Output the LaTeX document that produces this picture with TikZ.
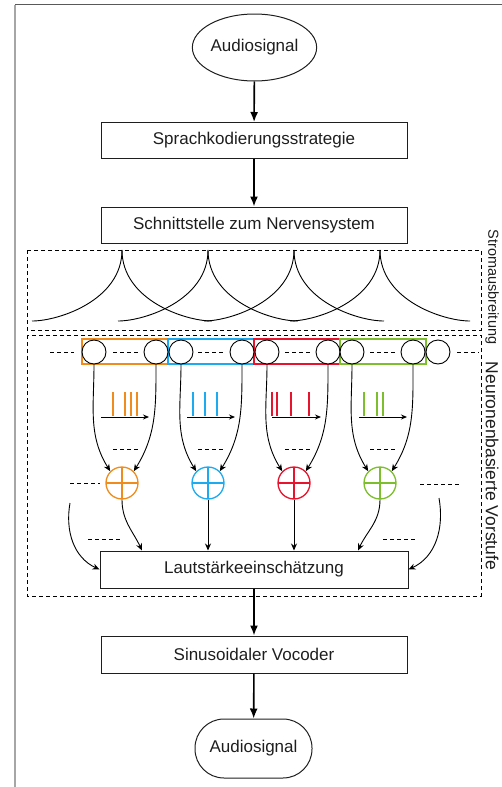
\documentclass[tikz,border=0pt]{standalone}
\usepackage{fontspec}
\setmainfont{Liberation Sans}
\usetikzlibrary{arrows.meta,shapes.geometric}
\definecolor{cor}{RGB}{240,140,30}
\definecolor{cbl}{RGB}{30,170,240}
\definecolor{crd}{RGB}{232,20,45}
\definecolor{cgr}{RGB}{125,190,45}
\definecolor{txt}{RGB}{30,30,30}
\begin{document}
\begin{tikzpicture}[x=1pt,y=1pt,
  lbl/.style={font=\fontsize{17}{20}\selectfont, text=txt},
  box/.style={lbl, draw=txt, line width=1pt, minimum width=306pt, minimum height=36pt, inner sep=0pt},
  mainarrow/.style={line width=1.6pt, -{Latex[length=10pt,width=8pt]}},
  thinarrow/.style={line width=0.9pt, -{Stealth[length=7pt,width=6pt]}},
  neuron/.style={draw, circle, minimum size=24pt, inner sep=0pt, line width=0.9pt, fill=white},
  sumc/.style={circle, minimum size=32pt, inner sep=0pt, line width=1.3pt, draw=#1,
    path picture={\draw[#1,line width=2.6pt] (path picture bounding box.north) -- (path picture bounding box.south) (path picture bounding box.west) -- (path picture bounding box.east);}},
  dsh/.style={dash pattern=on 4pt off 3pt, line width=0.9pt},
  cusp/.style={line width=0.9pt}
]
\useasboundingbox (0,0) rectangle (502,-787);
% frame
\draw[black!35, line width=1.2pt] (15,-4.5) -- (15,-787);
\draw[black!65, line width=1.2pt] (15,-4.5) -- (502,-4.5);

% main chain
\node[lbl, draw=txt, line width=1pt, ellipse, minimum width=111pt, minimum height=67pt, inner sep=0pt] (a1) at (254.5,-47.5) {Audiosignal};
\node[box] (b1) at (254,-140.5) {Sprachkodierungsstrategie};
\node[box] (b2) at (254,-225) {Schnittstelle zum Nervensystem};
\node[box, minimum width=308pt, minimum height=37pt] (lb) at (254,-569.5) {Lautstärkeeinschätzung};
\node[box, minimum height=37pt] (b4) at (254,-654.5) {Sinusoidaler Vocoder};
\node[lbl, draw=txt, line width=1pt, rounded corners=29pt, minimum width=117pt, minimum height=59pt, inner sep=0pt] (a2) at (253.5,-748.5) {Audiosignal};

\draw[mainarrow] (a1) -- (b1);
\draw[mainarrow] (b1) -- (b2);
\draw[mainarrow] (lb) -- (b4);
\draw[mainarrow] (b4) -- (a2);

% dashed regions
\draw[dsh] (27,-250) rectangle (481,-330);
\draw[dsh] (27,-335) rectangle (481,-596);
\node[text=txt, font=\fontsize{14.5}{17}\selectfont, rotate=-90] (sl1) at (492,-287) {Stromausbreitung};
\node[text=txt, font=\fontsize{17.5}{21}\selectfont, rotate=-90] (sl2) at (492,-466) {Neuronenbasierte Vorstufe};

% current spread cusps
\foreach \px in {122,208,294,380}{
  \draw[cusp] (\px,-250) .. controls (\px,-300) and ({\px-63},-321) .. ({\px-90},-321);
  \draw[cusp] (\px,-250) .. controls (\px,-300) and ({\px+63},-321) .. ({\px+90},-321);
}

% groups
\draw[cor, line width=1.3pt] (82,-339) rectangle (168,-364);
\draw[cbl, line width=1.3pt] (168,-339) rectangle (254,-364);
\draw[crd, line width=1.3pt] (254,-339) rectangle (340,-364);
\draw[cgr, line width=1.3pt] (340,-339) rectangle (426,-364);

\node[neuron] (n1) at (94,-352) {};
\node[neuron] (n2) at (156,-352) {};
\node[neuron] (n3) at (181,-352) {};
\node[neuron] (n4) at (242,-352) {};
\node[neuron] (n5) at (267,-352) {};
\node[neuron] (n6) at (328,-352) {};
\node[neuron] (n7) at (352,-352) {};
\node[neuron] (n8) at (413,-352) {};
\node[neuron] (n9) at (438,-352) {};

% dashes in neuron row
\draw[dsh] (50,-352) -- (74,-352);
\draw[dsh] (113,-352) -- (139,-352);
\draw[dsh] (198,-352) -- (224,-352);
\draw[dsh] (285,-352) -- (311,-352);
\draw[dsh] (370,-352) -- (396,-352);
\draw[dsh] (457,-352) -- (479,-352);

% spike trains
\draw[cor, line width=1.2pt] (113,-392) -- (113,-416) (125,-392) -- (125,-416) (131,-392) -- (131,-416) (137,-392) -- (137,-416);
\draw[cbl, line width=1.2pt] (193,-392) -- (193,-416) (205,-392) -- (205,-416) (217,-392) -- (217,-416);
\draw[crd, line width=1.2pt] (272,-392) -- (272,-416) (277,-392) -- (277,-416) (291,-392) -- (291,-416) (309,-392) -- (309,-416);
\draw[cgr, line width=1.2pt] (364,-392) -- (364,-416) (377,-392) -- (377,-416) (383,-392) -- (383,-416);
\coordinate (t1a) at (101,-417); \coordinate (t1b) at (149,-417);
\coordinate (t2a) at (187,-417); \coordinate (t2b) at (235,-417);
\coordinate (t3a) at (272,-417); \coordinate (t3b) at (321,-417);
\coordinate (t4a) at (359,-417); \coordinate (t4b) at (407,-417);
\foreach \i in {1,2,3,4}{\draw[line width=0.9pt, -{Stealth[length=6pt,width=5pt]}] (t\i a) -- (t\i b);}

% dashes below trains
\draw[dsh] (113,-449) -- (139,-449);
\draw[dsh] (198,-449) -- (224,-449);
\draw[dsh] (285,-449) -- (311,-449);
\draw[dsh] (370,-449) -- (396,-449);

% summation nodes
\node[sumc=cor] (s1) at (122,-483) {};
\node[sumc=cbl] (s2) at (208,-483) {};
\node[sumc=crd] (s3) at (294,-483) {};
\node[sumc=cgr] (s4) at (380,-483) {};

\draw[dsh] (70,-483) -- (100,-483);
\draw[dsh] (420,-484) -- (460,-484);

% neuron to sum
\draw[thinarrow] (n1.south) to[out=-90,in=122] (s1.135);
\draw[thinarrow] (n2.south) to[out=-90,in=58] (s1.45);
\draw[thinarrow] (n3.south) to[out=-90,in=122] (s2.135);
\draw[thinarrow] (n4.south) to[out=-90,in=58] (s2.45);
\draw[thinarrow] (n5.south) to[out=-90,in=122] (s3.135);
\draw[thinarrow] (n6.south) to[out=-90,in=58] (s3.45);
\draw[thinarrow] (n7.south) to[out=-90,in=122] (s4.135);
\draw[thinarrow] (n8.south) to[out=-90,in=58] (s4.45);

% sums to loudness
\draw[thinarrow] (s1.south) to[out=-90,in=115] ([xshift=-112pt]lb.north);
\draw[thinarrow] (s2.south) -- (s2.south |- lb.north);
\draw[thinarrow] (s3.south) -- (s3.south |- lb.north);
\draw[thinarrow] (s4.south) to[out=-90,in=65] ([xshift=104pt]lb.north);
\coordinate (cl) at (70,-503);
\coordinate (cr) at (439,-498);
\draw[thinarrow] (cl) to[out=-100,in=155] (lb.west);
\draw[thinarrow] (cr) to[out=-80,in=25] (lb.east);
\draw[dsh] (88,-539) -- (122,-539);
\draw[dsh] (383,-539) -- (415,-539);
\end{tikzpicture}
\end{document}
